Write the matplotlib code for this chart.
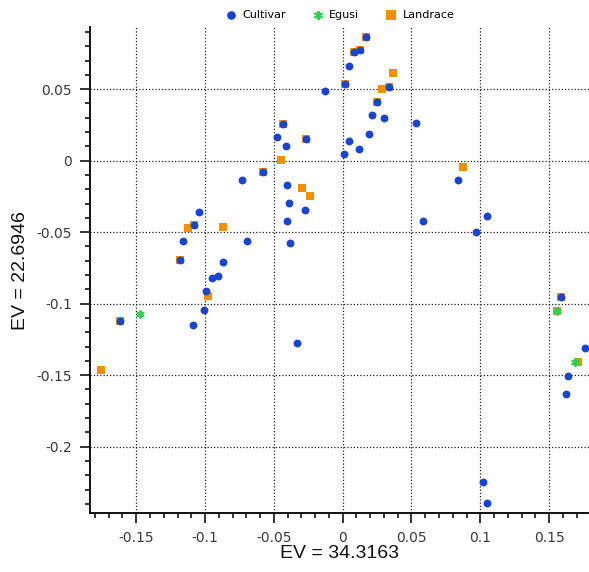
import matplotlib
matplotlib.use("Agg")
import matplotlib.pyplot as plt
from matplotlib.ticker import MultipleLocator, FixedLocator

# ---- data ----
cultivar_x = [-0.013, -0.043, -0.048, -0.0267, -0.0414, -0.058, -0.073, -0.0407, -0.039, -0.0276,
              -0.1044, -0.0407, -0.1078, -0.1158, -0.0695, -0.0383, -0.1182, -0.087, -0.0948, -0.0906,
              -0.0993, -0.1618, -0.1008, -0.1088, -0.033, 0.0169, 0.0126, 0.008, 0.0046, 0.0019,
              0.0334, 0.0252, 0.021, 0.0298, 0.0533, 0.0194, 0.0046, 0.0116, 0.001, 0.0836,
              0.1049, 0.0586, 0.0969, 0.1589, 0.1763, 0.164, 0.1623, 0.1022, 0.105]
cultivar_y = [0.049, 0.0255, 0.0164, 0.0152, 0.0105, -0.0081, -0.0133, -0.0172, -0.0298, -0.0343,
              -0.0359, -0.0424, -0.045, -0.056, -0.056, -0.0576, -0.0694, -0.071, -0.082, -0.0804,
              -0.0911, -0.1121, -0.1046, -0.1147, -0.1273, 0.0865, 0.0772, 0.0758, 0.0664, 0.0538,
              0.0515, 0.041, 0.0322, 0.0296, 0.0263, 0.0187, 0.0138, 0.008, 0.0045, -0.0133,
              -0.039, -0.0424, -0.0501, -0.0955, -0.1308, -0.1506, -0.1634, -0.2245, -0.2394]

landrace_x = [-0.043, -0.0267, -0.0448, -0.058, -0.0298, -0.0238, -0.1078, -0.1122, -0.0868, -0.1182,
              -0.0979, -0.1618, -0.1754, 0.0169, 0.0126, 0.008, 0.0363, 0.0019, 0.0283, 0.0334,
              0.0252, 0.0877, 0.1589, 0.1555, 0.1712]
landrace_y = [0.0255, 0.0152, 0.0007, -0.0081, -0.0193, -0.0245, -0.045, -0.0468, -0.0464, -0.0694,
              -0.0948, -0.1121, -0.1462, 0.0865, 0.0772, 0.0758, 0.0611, 0.0538, 0.0501, 0.0515,
              0.041, -0.0042, -0.0955, -0.1049, -0.1406]

egusi_x = [-0.1473, 0.1555, 0.1685]
egusi_y = [-0.107, -0.1049, -0.1406]

x_ticks = [-0.15, -0.1, -0.05, 0, 0.05, 0.1, 0.15]
x_labels = ["-0.15", "-0.1", "-0.05", "0", "0.05", "0.1", "0.15"]
y_ticks = [-0.2, -0.15, -0.1, -0.05, 0, 0.05]
y_labels = ["-0.2", "-0.15", "-0.1", "-0.05", "0", "0.05"]

x_title = "EV = 34.3163"
y_title = "EV = 22.6946"

# ---- style ----
blue = "#1844d4"
orange = "#f29000"
green = "#2ed14a"

W, H = 589, 572
fig = plt.figure(figsize=(W / 100, H / 100), dpi=100)
ax = fig.add_axes([90 / W, 1 - 513.3 / H, (W - 90) / W, (513.3 - 27) / H])

sq = ax.scatter(landrace_x, landrace_y, marker="s", s=38, color=orange, linewidths=0,
                label="Landrace", zorder=3)
ci = ax.scatter(cultivar_x, cultivar_y, marker="o", s=32, color=blue, linewidths=0,
                label="Cultivar", zorder=4)
st = ax.scatter(egusi_x, egusi_y, marker=(6, 2, 0), s=22, color=green, linewidths=1.6,
                label="Egusi", zorder=5)

ax.set_xlim(-0.1836, 0.179)
ax.set_ylim(-0.2466, 0.0935)

ax.xaxis.set_major_locator(FixedLocator(x_ticks))
ax.set_xticklabels(x_labels)
ax.yaxis.set_major_locator(FixedLocator(y_ticks))
ax.set_yticklabels(y_labels)
ax.xaxis.set_minor_locator(MultipleLocator(0.01))
ax.yaxis.set_minor_locator(MultipleLocator(0.01))

ax.tick_params(which="major", direction="out", length=7, width=1.2, colors="#111111",
               labelsize=10, labelcolor="#3a3a3a", pad=6)
ax.tick_params(which="minor", direction="out", length=3.5, width=1.2, colors="#111111")

for s in ("top", "right"):
    ax.spines[s].set_visible(False)
for s in ("left", "bottom"):
    ax.spines[s].set_linewidth(1.4)
    ax.spines[s].set_color("#111111")

ax.grid(True, which="major", color="#222222", linestyle=(0, (1, 1.6)), linewidth=0.9)
ax.set_axisbelow(True)

ax.set_xlabel(x_title, fontsize=14, family="Liberation Sans", labelpad=0, color="#111111")
ax.set_ylabel(y_title, fontsize=14, family="Liberation Sans", labelpad=5, color="#111111")

leg = fig.legend(handles=[ci, st, sq], labels=["Cultivar", "Egusi", "Landrace"],
                 loc="center", bbox_to_anchor=(340 / W, 1 - 15 / H), ncol=3, frameon=False,
                 fontsize=8, handlelength=1.0, handletextpad=0.5, columnspacing=2.4,
                 markerscale=1.1)

fig.savefig("out.png", dpi=100)
